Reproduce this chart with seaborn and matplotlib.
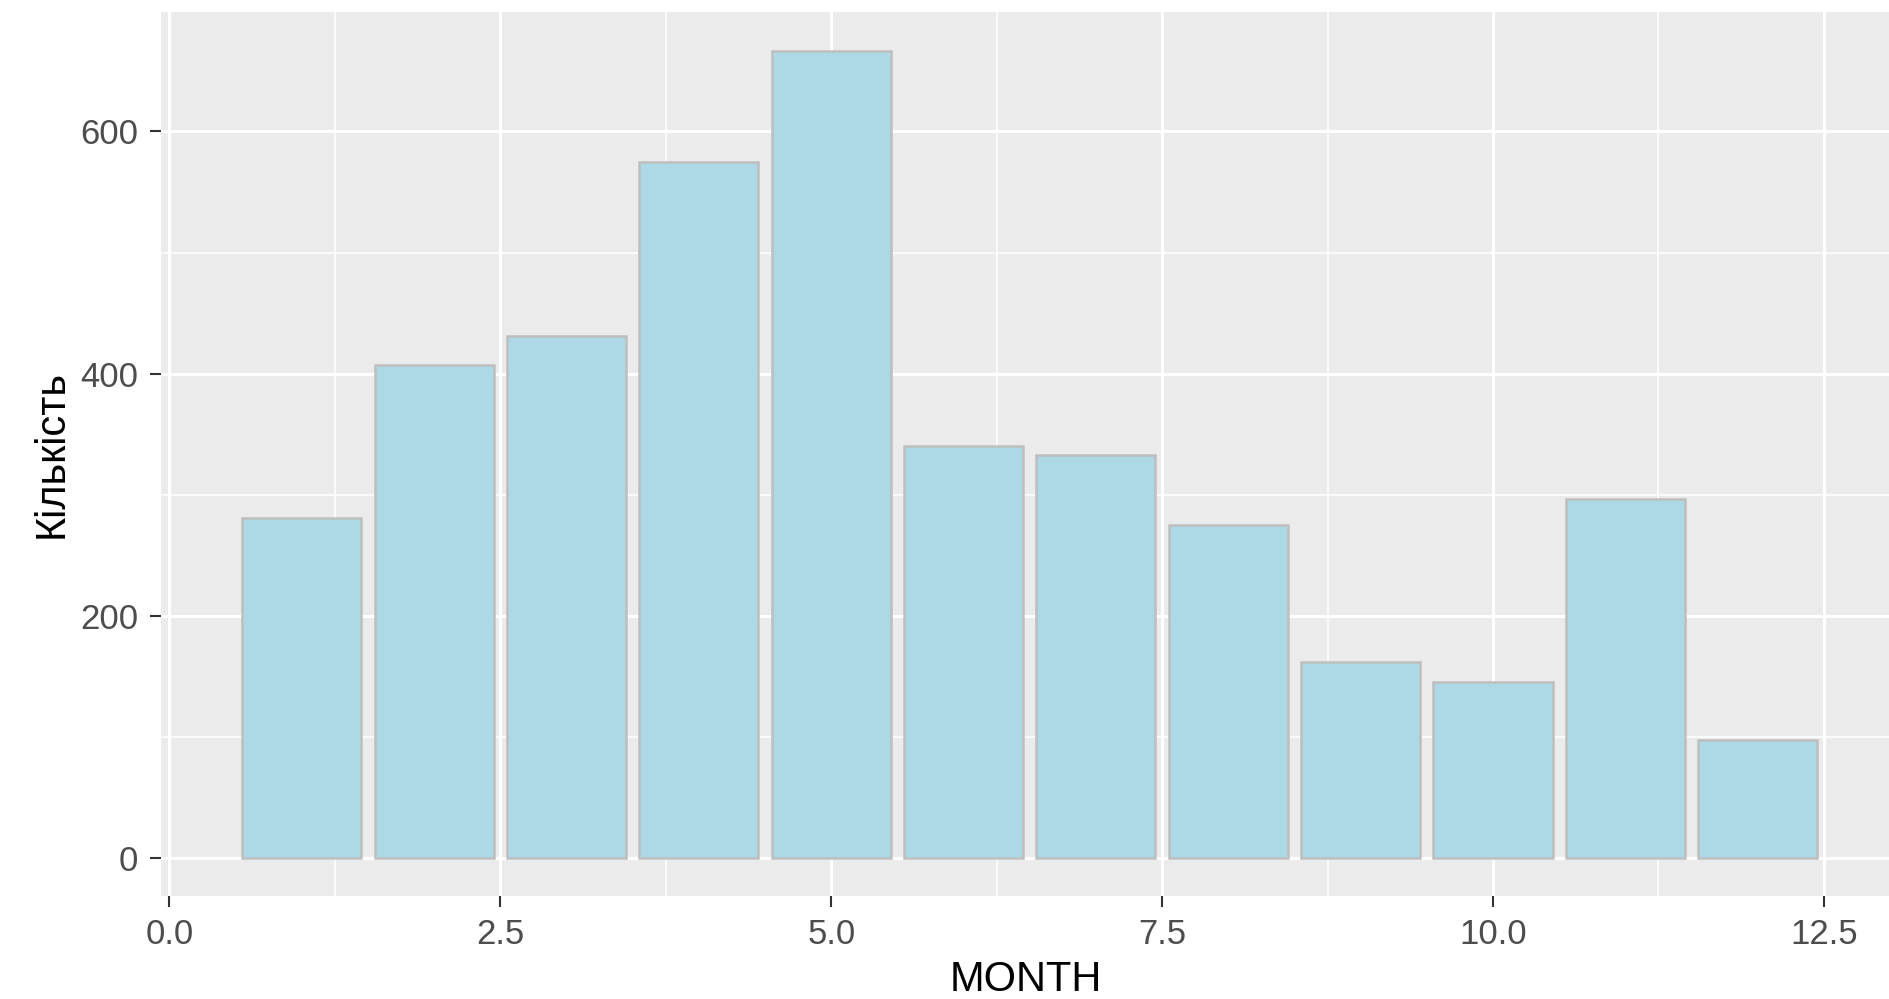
import matplotlib
matplotlib.use("Agg")
import matplotlib.pyplot as plt
import seaborn as sns
import pandas as pd
from matplotlib.ticker import MultipleLocator

months = [1, 2, 3, 4, 5, 6, 7, 8, 9, 10, 11, 12]
counts = [281, 407, 431, 575, 666, 340, 333, 275, 162, 146, 297, 98]
x_ticks = [0.0, 2.5, 5.0, 7.5, 10.0, 12.5]
x_tick_labels = ["0.0", "2.5", "5.0", "7.5", "10.0", "12.5"]
y_ticks = [0, 200, 400, 600]
y_tick_labels = ["0", "200", "400", "600"]

sns.set_theme(style="darkgrid")
plt.rcParams['font.family'] = ['Liberation Sans', 'DejaVu Sans']

df = pd.DataFrame({"MONTH": months, "count": counts})

fig = plt.figure(figsize=(18.9, 9.99), dpi=100)
ax = fig.add_axes([0.0852, 0.1031, 0.9148, 0.8849])
ax.set_facecolor("#EBEBEB")

sns.barplot(data=df, x="MONTH", y="count", native_scale=True, width=0.9,
            color="#ADD8E6", saturation=1, edgecolor="#BEBEBE", linewidth=1.8,
            ax=ax, zorder=3)

ax.set_xlim(-0.064, 13.0)
ax.set_ylim(-31, 698.5)
ax.set_xticks(x_ticks)
ax.set_xticklabels(x_tick_labels)
ax.set_yticks(y_ticks)
ax.set_yticklabels(y_tick_labels)
ax.xaxis.set_minor_locator(MultipleLocator(1.25))
ax.yaxis.set_minor_locator(MultipleLocator(100))

ax.grid(which="major", color="white", linewidth=2.2, zorder=0)
ax.grid(which="minor", color="white", linewidth=1.1, zorder=0)
ax.set_axisbelow(True)
for s in ax.spines.values():
    s.set_visible(False)

ax.tick_params(axis="both", which="major", length=8, width=1.5, color="#333333",
               labelcolor="#4D4D4D", labelsize=25, direction="out")
ax.tick_params(axis="x", which="major", pad=8)
ax.tick_params(axis="y", which="major", pad=8.5)
ax.tick_params(axis="both", which="minor", length=0)
ax.tick_params(axis="x", bottom=True)
ax.tick_params(axis="y", left=True)

ax.set_xlabel("MONTH", fontsize=30, color="black", labelpad=6)
ax.set_ylabel("Кількість", fontsize=30, color="black", labelpad=6)

fig.savefig("out.png", dpi=100)
